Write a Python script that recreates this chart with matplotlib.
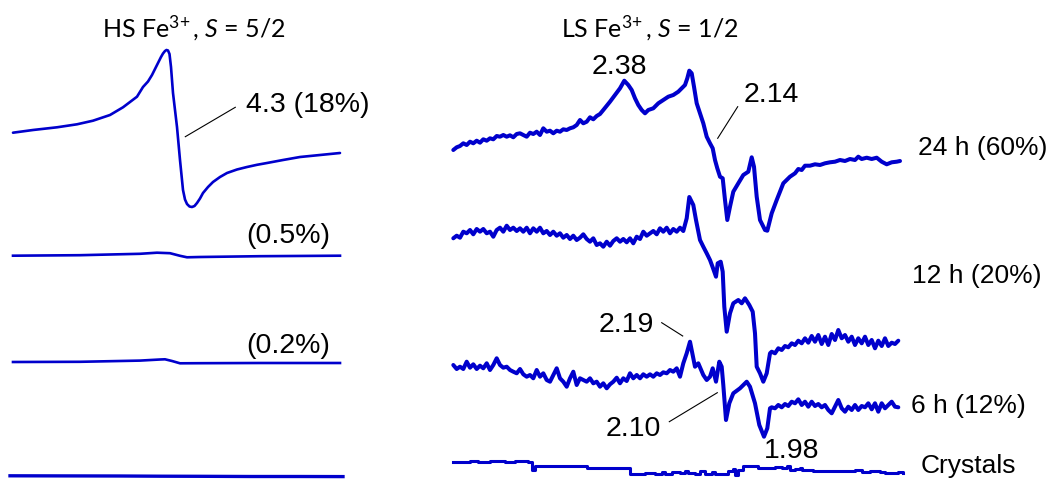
import numpy as np
import matplotlib
matplotlib.use("Agg")
import matplotlib.pyplot as plt

plt.rcParams['font.family'] = ['Liberation Sans', 'DejaVu Sans']
plt.rcParams['mathtext.fontset'] = 'custom'
plt.rcParams['mathtext.rm'] = 'Lato'
plt.rcParams['mathtext.it'] = 'Lato:italic'

BLUE = '#0000cc'

# ---- HS Fe3+ spectra (left stack), digitised field position vs. trace height ----
hs18_x = [13, 33, 57, 77, 93, 110, 123, 137, 143, 148, 152, 155, 158, 161, 163, 165, 166.5,
          168, 169.5, 171, 173, 177, 180, 183, 185, 187, 189.5, 192, 194.5, 197, 200, 203,
          208, 213, 220, 227, 237, 247, 257, 267, 283, 300, 320, 340]
hs18_y = [132.7, 130, 127.3, 124.3, 120.7, 115, 107.3, 96.7, 87, 81.5, 75, 69, 63, 57, 53.5, 51, 50,
          50.5, 54, 67, 93, 127, 160, 190, 199.5, 204, 206.5, 207, 206, 203, 198.5, 193,
          187, 182, 177, 173, 169.5, 167, 164.8, 163, 160, 157, 155, 153]

hs05_x = [13, 80, 140, 157, 170, 180, 187, 200, 260, 340]
hs05_y = [255.7, 255.2, 253.8, 252.7, 253.2, 255.8, 257.3, 257, 256.2, 255.7]

hs02_x = [13, 80, 140, 160, 165, 172, 180, 200, 260, 340]
hs02_y = [362, 361.8, 360.6, 359.5, 359.3, 361, 363.3, 363.2, 363, 363]

hs00_x = [10, 60, 120, 160, 200, 250, 300, 343]
hs00_y = [475.8, 475.9, 476, 476.2, 476.3, 476.5, 476.5, 476.6]

# ---- LS Fe3+ spectra (right stack) ----
ls24_x = [453.3, 456.7, 460, 463.3, 466.7, 470, 473.3, 476.7, 480, 483.3, 486.7, 490,
          493.3, 496.7, 500, 503.3, 506.7, 510, 513.3, 516.7, 520, 523.3, 526.7, 530,
          533.3, 536.7, 540, 543.3, 546.7, 550, 553.3, 556.7, 560, 563.3, 566.7, 570,
          573.3, 576.7, 580, 583.3, 586.7, 590, 593.3, 596.7, 600, 603.3, 610, 615,
          620, 624.3, 628.3, 631.7, 635, 638.3, 641.7, 645, 648.3, 653.3, 658.3, 663.3,
          668.3, 673.3, 678.3, 685, 687.3, 689.3, 691.7, 694, 696.7, 700, 703.3, 706.7,
          710, 712.7, 715, 717.3, 720, 722.7, 725, 727.3, 730, 733.3, 738.3, 743.3,
          748.3, 751.7, 754, 756.7, 760, 765, 767.3, 771.7, 776.7, 783.3, 790, 795,
          798.3, 801.7, 805, 810, 815, 820, 825, 830, 835, 840, 845, 850, 855, 858.3,
          861.7, 866.7, 871.7, 876.7, 881.7, 886.7, 891.7, 896.7, 900]
ls24_y = [150, 147.3, 146, 143.3, 145, 141.7, 143.3, 140.7, 142.7, 139.3, 140.7, 138.3,
          139.3, 136, 136.7, 135, 136.7, 135.3, 137.3, 134, 133.3, 135, 136.7, 132.7,
          134, 131.7, 135, 128.3, 131.7, 130.7, 133.3, 130.7, 131.7, 129.3, 130, 128.3,
          127.3, 125, 120, 123.3, 121.7, 117.3, 119.3, 116, 114, 110, 101.7, 95,
          88.3, 80.7, 85, 90, 98.3, 105, 110, 113.3, 110, 108.3, 103.3, 100,
          96.7, 95, 91.7, 85, 78.3, 70.7, 73.3, 86.7, 103.3, 113.3, 123.3, 136.7,
          143.3, 148.3, 160, 168.3, 176.7, 178.3, 200, 220, 206.7, 191.7, 183.3, 175,
          171.7, 157.3, 166.7, 196.7, 220, 230, 230.7, 213.3, 200, 183.3, 176.7, 173.3,
          169, 170, 165.7, 165.7, 164.3, 165, 163.3, 162.3, 161.7, 160, 161, 159, 160, 156.7,
          159, 157.7, 159, 157.7, 161.7, 164.3, 162.3, 161.7, 161]

ls12_x = [453.3, 456.7, 460, 463.3, 466.7, 470, 473.3, 476.7, 480, 483.3, 486.7, 490,
          493.3, 496.7, 500, 503.3, 506.7, 510, 513.3, 516.7, 520, 523.3, 526.7, 530,
          533.3, 536.7, 540, 543.3, 546.7, 550, 553.3, 556.7, 560, 563.3, 566.7, 570,
          573.3, 576.7, 580, 583.3, 586.7, 590, 593.3, 596.7, 600, 603.3, 606.7, 610,
          613.3, 616.7, 620, 623.3, 626.7, 630, 633.3, 636.7, 640, 643.3, 646.7, 650,
          653.3, 656.7, 660, 663.3, 666.7, 670, 673.3, 676.7, 680, 683.3, 686.7, 689.3,
          693.3, 696, 700, 703.3, 706.7, 710, 712.7, 716, 717.7, 720.7, 722.7, 724.3,
          726.7, 730, 733.3, 738.3, 741.7, 745, 749.3, 752.7, 755, 756.7, 760, 763.3,
          766.7, 770, 771.7, 775, 778.3, 781.7, 785, 788.3, 791.7, 795, 798.3, 801.7,
          805, 808.3, 811.7, 815, 818.3, 821.7, 825, 828.3, 831.7, 835, 838.3, 841.7,
          845, 848.3, 851.7, 855, 858.3, 861.7, 865, 868.3, 871.7, 875, 878.3, 881.7,
          885, 888.3, 891.7, 895, 898.3]
ls12_y = [238.3, 235.7, 237.7, 231.7, 233.3, 230, 234.3, 229, 231.7, 229, 233.3, 231.7,
          236.7, 230, 227.7, 231.7, 225.7, 230, 227.7, 231, 228.3, 231.7, 227.7, 233.3,
          228.3, 231.7, 227.7, 233.3, 231, 235, 231.7, 235.7, 233.3, 237.7, 235, 239,
          235.7, 240, 237.7, 234.3, 239, 241.7, 238.3, 245, 243.3, 246.7, 241.7, 245.7,
          241, 238.3, 241.7, 239, 242.3, 238.3, 243.3, 236.7, 239, 231.7, 235.7, 233.3,
          231, 234.3, 228.3, 231.7, 227.7, 233.3, 229, 231.7, 227.7, 231, 218.3, 197,
          205, 220, 240, 246.7, 253.3, 260, 267.3, 276.7, 263.3, 261.7, 271.7, 306.7,
          331.7, 313.3, 303.3, 300, 303.3, 298.3, 305, 311.7, 333.3, 366.7, 373.3, 381.7,
          373.3, 353.3, 351.7, 353.3, 348.3, 350, 346, 347.3, 343.3, 345, 340.7, 343.3,
          338.3, 342.7, 336, 341.7, 335, 344, 336.7, 345, 334, 340, 330, 338.3,
          335, 341.7, 336.7, 345, 338.3, 343.3, 336.7, 345, 340, 348.3, 340.7, 346,
          338.3, 346, 342.7, 344, 340.7]

ls6_x = [453.3, 456.7, 460, 463.3, 466.7, 470, 473.3, 476.7, 480, 483.3, 486.7, 490,
         493.3, 496.7, 500, 503.3, 506.7, 510, 513.3, 516.7, 520, 523.3, 526.7, 530,
         533.3, 536.7, 540, 543.3, 546.7, 550, 553.3, 556.7, 560, 563.3, 566.7, 570,
         573.3, 576.7, 580, 583.3, 586.7, 590, 593.3, 596.7, 600, 603.3, 606.7, 610,
         613.3, 616.7, 620, 623.3, 626.7, 630, 633.3, 636.7, 640, 643.3, 646.7, 650,
         653.3, 656.7, 660, 663.3, 666.7, 670, 673.3, 676.7, 680, 683.3, 686.7, 690,
         695, 698.3, 703.3, 706.7, 710, 712.7, 716, 719.3, 721.7, 723.3, 726, 729.3,
         733.3, 740, 746.7, 750, 755, 759.3, 764, 767.3, 770, 771.7, 775, 778.3,
         781.7, 785, 788.3, 791.7, 795, 798.3, 801.7, 805, 808.3, 811.7, 815, 818.3,
         821.7, 825, 828.3, 831.7, 835, 838.3, 841.7, 845, 848.3, 851.7, 855, 858.3,
         861.7, 865, 868.3, 871.7, 875, 878.3, 881.7, 885, 888.3, 891.7, 895, 898.3]
ls6_y = [365, 369, 366.7, 369, 361.7, 367.7, 364.3, 369, 365.7, 368.3, 363.3, 370,
         365, 358.3, 365, 367.7, 366.7, 370, 371.7, 373.3, 369, 374.3, 376.7, 375,
         378.3, 370, 376.7, 373.3, 380, 381.7, 375, 368.3, 378.3, 381.7, 386.7, 378.3,
         371.7, 385, 378.3, 380, 381.7, 378.3, 383.3, 381.7, 386.7, 383.3, 388.3, 384.3,
         381.7, 377.7, 383.3, 378.3, 381, 373.3, 378.3, 375, 378.3, 374.3, 376.7, 374.3,
         376.7, 373.3, 375, 372.3, 373.3, 370, 371.7, 368.3, 376.7, 363.3, 353.3, 341.7,
         366.7, 363.3, 375, 380, 376.7, 368.3, 381.7, 361.7, 366.7, 385, 420, 403.3,
         393.3, 388.3, 381.7, 386.7, 403.3, 425, 436.7, 428.3, 408.3, 407.3, 408.3, 405,
         407.3, 404, 406, 401.7, 403.3, 399.3, 405, 401.7, 406.7, 401.7, 406, 404,
         407.3, 405, 410, 413.3, 406.7, 400, 408.3, 411.7, 406.7, 410, 405, 410,
         406, 407.3, 403.3, 409.3, 403.3, 411.7, 403.3, 408.3, 405, 401.7, 406.7, 407.3]

# crystals trace is quantised, drawn as steps
cry_x = [453, 470, 478, 490, 505, 515, 528, 532, 535, 541, 560, 575, 587, 600, 612,
         630, 645, 655, 662, 665, 672, 680, 685, 688, 695, 700, 705, 712, 715, 725,
         728, 733, 735, 738, 743, 748, 758, 768, 775, 782, 787, 790, 795, 800, 802,
         813, 822, 835, 845, 855, 862, 870, 880, 885, 892, 898, 903]
cry_y = [461.7, 461, 462, 461, 462, 461, 462, 470, 466, 465.5, 466.3, 465.5, 468.3, 467.7, 468.3,
         473.7, 473, 474, 472, 474, 471.7, 473.3, 470.7, 473, 473.7, 471, 473.7, 471.7, 474, 474.3,
         470.7, 469.3, 475, 470, 466, 466.3, 468, 468, 467, 468.3, 466, 470, 469.3, 467.7, 470,
         471, 470.7, 471.3, 471, 470.3, 472, 471, 471.7, 473.3, 473, 471.7, 473]

fig = plt.figure(figsize=(10.51, 4.79), dpi=100)
ax = fig.add_axes([0, 0, 1, 1])
ax.set_xlim(0, 1051)
ax.set_ylim(479, 0)
ax.axis('off')

ax.plot(hs18_x, hs18_y, color=BLUE, lw=1.9, solid_joinstyle='round', solid_capstyle='round')
ax.plot(hs05_x, hs05_y, color=BLUE, lw=1.9)
ax.plot(hs02_x, hs02_y, color=BLUE, lw=1.9)
ax.plot(hs00_x, hs00_y, color=BLUE, lw=2.4)

ax.plot(ls24_x, ls24_y, color=BLUE, lw=2.9, solid_joinstyle='round', solid_capstyle='round')
ax.plot(ls12_x, ls12_y, color=BLUE, lw=2.9, solid_joinstyle='round', solid_capstyle='round')
ax.plot(ls6_x, ls6_y, color=BLUE, lw=2.9, solid_joinstyle='round', solid_capstyle='round')
ax.step(cry_x, cry_y, where='post', color=BLUE, lw=2.2)

# panel titles
title_kw = dict(family=['Lato', 'DejaVu Sans'], fontsize=18, ha='center', va='baseline')
ax.text(193.5, 37, r'HS Fe$^{3\!+}$, $S$ = 5/2', **title_kw)
ax.text(649.5, 37, r'LS Fe$^{3\!+}$, $S$ = 1/2', **title_kw)

gval = dict(fontsize=20.5, va='baseline', ha='center')
ax.text(308, 112, '4.3 (18%)', **gval)
ax.text(288, 242.7, '(0.5%)', **gval)
ax.text(288, 353.3, '(0.2%)', **gval)
ax.text(619, 74.3, '2.38', **gval)
ax.text(771, 101.7, '2.14', **gval)
ax.text(626, 331.7, '2.19', **gval)
ax.text(633, 436, '2.10', **gval)
ax.text(792, 458.3, '1.98', **gval)

tlab = dict(fontsize=19, va='baseline', ha='left')
ax.text(918, 155, '24 h (60%)', **tlab)
ax.text(912, 283, '12 h (20%)', **tlab)
ax.text(911, 413, '6 h (12%)', **tlab)
ax.text(921, 473.5, 'Crystals', **tlab)

# leader lines to the marked g-values
leaders = [((235.3, 185.3), (107.3, 136.7)),
           ((737.7, 717.7), (106.7, 138.3)),
           ((661.7, 682.7), (322.7, 336)),
           ((669.3, 717.3), (421.7, 392.7))]
for lx, ly in leaders:
    ax.plot(lx, ly, color='black', lw=0.8)

fig.savefig('out.png', dpi=100)
